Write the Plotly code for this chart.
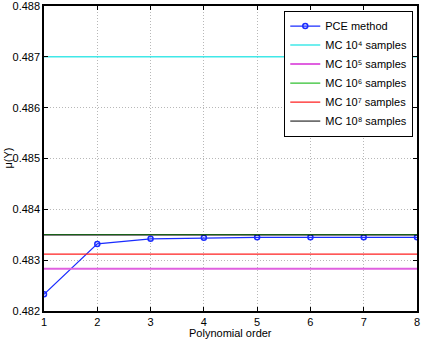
import plotly.graph_objects as go

orders = [1, 2, 3, 4, 5, 6, 7, 8]
pce_mean = [0.48233, 0.48332, 0.48342, 0.48344, 0.48345, 0.48345, 0.48345, 0.48345]
mc_labels = ["MC 10⁴ samples", "MC 10⁵ samples", "MC 10⁶ samples",
             "MC 10⁷ samples", "MC 10⁸ samples"]
mc_values = [0.48700, 0.48283, 0.483505, 0.48312, 0.483495]
mc_colors = ["#40e8e8", "#e060e0", "#30c030", "#ff2020", "#000000"]
mc_widths = [1.5, 2, 1.2, 1.2, 1]
y_ticks = [0.482, 0.483, 0.484, 0.485, 0.486, 0.487, 0.488]

fig = go.Figure()
fig.add_trace(go.Scatter(x=orders, y=pce_mean, mode="lines+markers", name="PCE method",
                         line=dict(color="#1a2cff", width=1.2),
                         marker=dict(symbol="circle-open", size=5, color="#1a2cff", line=dict(width=1.5))))
for lab, val, col, w in zip(mc_labels, mc_values, mc_colors, mc_widths):
    fig.add_trace(go.Scatter(x=[orders[0], orders[-1]], y=[val, val], mode="lines", name=lab,
                             line=dict(color=col, width=w)))

axis_common = dict(showline=True, linecolor="black", linewidth=1.5, mirror="ticks",
                   ticks="inside", ticklen=4, tickcolor="black",
                   showgrid=True, gridcolor="#b8b8b8", griddash="1px,2px", gridwidth=1,
                   zeroline=False, tickfont=dict(size=11, color="black"),
                   ticklabeloverflow="allow", automargin=False)
fig.update_xaxes(range=[1, 8], tickvals=orders, **axis_common)
fig.update_yaxes(range=[0.482, 0.488], tickvals=y_ticks, tickformat=".3f", **axis_common)

fig.add_annotation(text="Polynomial order", xref="paper", yref="paper", x=0.5, y=0,
                   yshift=-14, xanchor="center", yanchor="top", showarrow=False,
                   font=dict(size=11, color="black"))
fig.add_annotation(text="μ(Y)", xref="paper", yref="paper", x=0, y=0.5, xshift=-37,
                   xanchor="center", yanchor="middle", textangle=-90, showarrow=False,
                   font=dict(size=11, color="black"))

fig.update_layout(width=423, height=339, margin=dict(l=44, r=6, t=6, b=28),
                  paper_bgcolor="white", plot_bgcolor="white",
                  font=dict(family="Liberation Sans, Arial, sans-serif", size=11, color="black"),
                  legend=dict(x=0.99, y=0.985, xanchor="right", yanchor="top",
                              bgcolor="white", bordercolor="black", borderwidth=1,
                              font=dict(size=11), tracegroupgap=0, itemwidth=30),
                  showlegend=True)
fig.write_html("out.html", config={"displayModeBar": False},
               post_script="document.body.style.margin='0';")
